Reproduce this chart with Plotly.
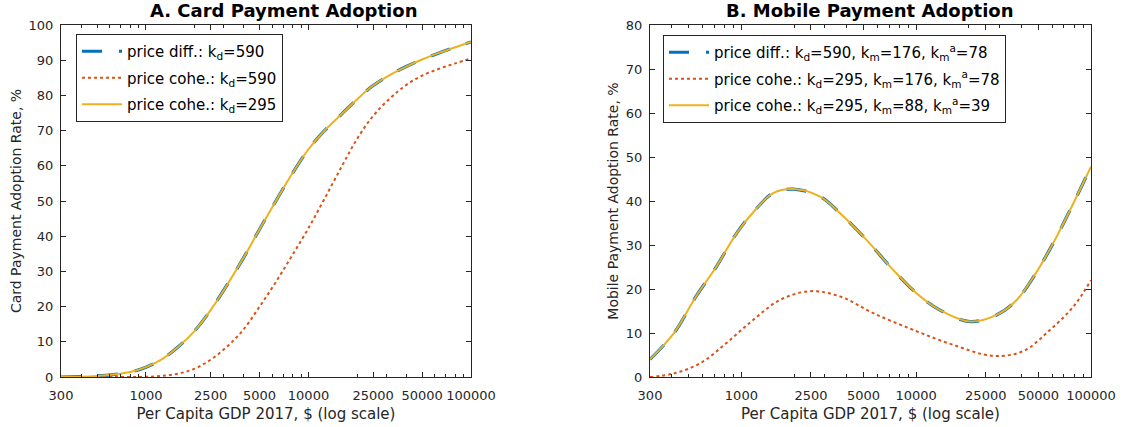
import plotly.graph_objects as go

# ---------------- data ----------------
# Panel A: card payment adoption (%)
card_x = [300, 400, 500, 630, 800, 1000, 1250, 1600, 2000, 2500, 3200, 4000, 5000, 6300, 8000,
          10000, 12500, 16000, 20000, 25000, 32000, 40000, 50000, 63000, 80000, 100000]
card_diff_y = [0, 0.1, 0.3, 0.7, 1.4, 2.8, 5.0, 8.8, 13.2, 19.0, 26.6, 34.0, 42.0, 50.0, 58.0,
               64.7, 69.9, 74.7, 79.0, 82.8, 85.9, 88.2, 90.2, 92.0, 93.7, 95.2]
card_cohe590_y = [0, 0, 0, 0, 0, 0.05, 0.3, 1.0, 2.4, 4.9, 8.9, 13.6, 20.0, 27.0, 34.8,
                  42.3, 50.5, 59.8, 67.8, 74.2, 79.3, 83.0, 85.6, 87.5, 89.1, 90.5]
card_cohe295_y = [0, 0.1, 0.3, 0.7, 1.4, 2.8, 5.0, 8.8, 13.2, 19.0, 26.6, 34.0, 42.0, 50.0, 58.0,
                  64.7, 69.9, 74.7, 79.0, 82.8, 85.9, 88.2, 90.2, 92.0, 93.7, 95.2]

# Panel B: mobile payment adoption (%)
mob_diff_x = [300, 410, 550, 720, 940, 1220, 1520, 1980, 2820, 3670, 5210, 7400, 10070, 13680,
              20330, 28850, 37580, 48900, 63620, 79300, 100000]
mob_diff_y = [4.0, 9.9, 18.3, 25.1, 32.7, 38.3, 41.8, 42.7, 41.0, 37.2, 31.1, 24.3, 19.0, 15.2,
              12.6, 14.1, 17.5, 23.9, 31.9, 39.5, 47.8]

mob_cohe_a_x = [300, 410, 580, 820, 1170, 1660, 2470, 3670, 5690, 9620, 16300, 27600, 41000,
                58200, 79300, 100000]
mob_cohe_a_y = [0, 0.8, 3.1, 7.7, 13.0, 17.5, 19.5, 18.3, 14.5, 10.7, 7.3, 4.8, 5.9,
                10.7, 16.0, 22.0]

mob_cohe_b_x = [300, 410, 550, 720, 940, 1220, 1520, 1980, 2820, 3670, 5210, 7400, 10070, 13680,
                20330, 28850, 37580, 48900, 63620, 79300, 100000]
mob_cohe_b_y = [4.0, 9.9, 18.3, 25.1, 32.7, 38.3, 41.8, 42.7, 41.0, 37.2, 31.1, 24.3, 19.0, 15.2,
                12.6, 14.1, 17.5, 23.9, 31.9, 39.5, 47.8]

x_tick_vals = [300, 1000, 2500, 5000, 10000, 25000, 50000, 100000]
x_tick_text = ["300", "1000", "2500", "5000", "10000", "25000", "50000", "100000"]
x_minor_vals = [400, 500, 600, 700, 800, 900, 2000, 3000, 4000, 6000, 7000, 8000, 9000,
                20000, 30000, 40000, 60000, 70000, 80000, 90000]

titles = ["A. Card Payment Adoption", "B. Mobile Payment Adoption"]
y_titles = ["Card Payment Adoption Rate, %", "Mobile Payment Adoption Rate, %"]
x_title = "Per Capita GDP 2017, $ (log scale)"

names_a = ["price diff.: k<sub>d</sub>=590",
           "price cohe.: k<sub>d</sub>=590",
           "price cohe.: k<sub>d</sub>=295"]
names_b = ["price diff.: k<sub>d</sub>=590, k<sub>m</sub>=176, k<sub>m</sub><sup>a</sup>=78",
           "price cohe.: k<sub>d</sub>=295, k<sub>m</sub>=176, k<sub>m</sub><sup>a</sup>=78",
           "price cohe.: k<sub>d</sub>=295, k<sub>m</sub>=88, k<sub>m</sub><sup>a</sup>=39"]

# ---------------- styling ----------------
BLUE = "#0072BD"
RED = "#D95319"
YEL = "#EDB120"
AX = "#262626"
FONT = "DejaVu Sans"

W, H = 1127, 427


def px_x(p):
    return p / W


def px_y(p):
    return 1 - p / H


fig = go.Figure()

series_a = [(card_x, card_diff_y), (card_x, card_cohe590_y), (card_x, card_cohe295_y)]
series_b = [(mob_diff_x, mob_diff_y), (mob_cohe_a_x, mob_cohe_a_y), (mob_cohe_b_x, mob_cohe_b_y)]
styles = [dict(color=BLUE, width=3.2, dash="20px,17px"),
          dict(color=RED, width=2, dash="dot"),
          dict(color=YEL, width=2, dash="solid")]

for i, ((xs, ys), nm) in enumerate(zip(series_a, names_a)):
    fig.add_trace(go.Scatter(x=xs, y=ys, mode="lines", name=nm, line=dict(shape="spline", **styles[i]),
                             xaxis="x", yaxis="y", legend="legend", legendgroup="a%d" % i))
for i, ((xs, ys), nm) in enumerate(zip(series_b, names_b)):
    fig.add_trace(go.Scatter(x=xs, y=ys, mode="lines", name=nm, line=dict(shape="spline", **styles[i]),
                             xaxis="x2", yaxis="y2", legend="legend2", legendgroup="b%d" % i))

ydom = [px_y(377), px_y(25)]


def xaxis_cfg(dom, anchor):
    return dict(domain=dom, anchor=anchor, type="log", range=[2.4771, 5.0], automargin=False,
                tickmode="array", tickvals=x_tick_vals, ticktext=x_tick_text,
                ticks="inside", ticklen=5, tickwidth=1, tickcolor=AX,
                showline=True, linecolor=AX, linewidth=1, mirror="allticks",
                showgrid=False, zeroline=False, ticklabelstandoff=6,
                tickfont=dict(family=FONT, size=13, color=AX),
                minor=dict(tickmode="array", tickvals=x_minor_vals, ticks="inside", ticklen=3,
                           tickcolor=AX, showgrid=False),
                title=dict(text=x_title, font=dict(family=FONT, size=15, color=AX), standoff=6))


def yaxis_cfg(anchor, rng, title):
    return dict(domain=ydom, anchor=anchor, range=rng, dtick=10, tick0=0, automargin=False,
                ticks="inside", ticklen=5, tickwidth=1, tickcolor=AX,
                showline=True, linecolor=AX, linewidth=1, mirror="allticks",
                showgrid=False, zeroline=False, ticklabelstandoff=4,
                tickfont=dict(family=FONT, size=13, color=AX),
                title=dict(text=title, font=dict(family=FONT, size=14, color=AX), standoff=3))


legend_common = dict(bgcolor="white", bordercolor=AX, borderwidth=1,
                     font=dict(family=FONT, size=15, color="black"),
                     xanchor="left", yanchor="top", tracegroupgap=4, itemwidth=40)

fig.update_layout(
    width=W, height=H, autosize=False,
    margin=dict(l=0, r=0, t=0, b=0, pad=0, autoexpand=False),
    paper_bgcolor="white", plot_bgcolor="white",
    xaxis=xaxis_cfg([px_x(61), px_x(471)], "y"),
    yaxis=yaxis_cfg("x", [0, 100], y_titles[0]),
    xaxis2=xaxis_cfg([px_x(650), px_x(1091)], "y2"),
    yaxis2=yaxis_cfg("x2", [0, 80], y_titles[1]),
    legend=dict(x=px_x(76), y=px_y(34), **legend_common),
    legend2=dict(x=px_x(663), y=px_y(35), **legend_common),
    annotations=[
        dict(text="<b>%s</b>" % titles[0], x=px_x(283), y=px_y(10), xref="paper", yref="paper",
             xanchor="center", yanchor="middle", showarrow=False,
             font=dict(family=FONT, size=18, color="black")),
        dict(text="<b>%s</b>" % titles[1], x=px_x(870), y=px_y(10), xref="paper", yref="paper",
             xanchor="center", yanchor="middle", showarrow=False,
             font=dict(family=FONT, size=18, color="black")),
    ],
)

fig.write_html("out.html")
